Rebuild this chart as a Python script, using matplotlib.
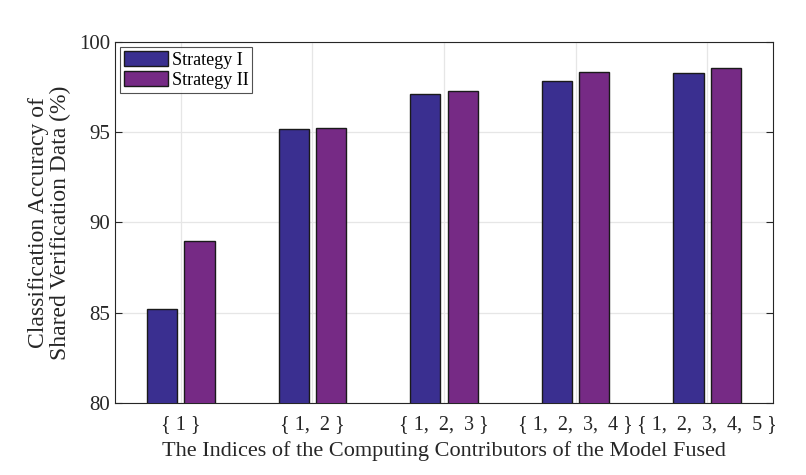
import numpy as np
import matplotlib
matplotlib.use("Agg")
import matplotlib.pyplot as plt

plt.rcParams['font.family'] = ['Liberation Serif', 'DejaVu Serif']
plt.rcParams['mathtext.fontset'] = 'stix'

groups = ["{ 1 }", "{ 1,  2 }", "{ 1,  2,  3 }", "{ 1,  2,  3,  4 }", "{ 1,  2,  3,  4,  5 }"]
strategy_1 = [85.18, 95.18, 97.10, 97.83, 98.28]
strategy_2 = [88.95, 95.23, 97.28, 98.33, 98.56]

fig = plt.figure(figsize=(8.06, 4.75), dpi=100)
ax = fig.add_axes([0.1427, 0.1516, 0.8163, 0.76])

x = np.arange(1, len(groups) + 1)
w = 0.23
off = 0.142
ax.bar(x - off, strategy_1, w, color='#3a2f90', edgecolor='#1a1a1a', linewidth=1.0,
       label='Strategy I', zorder=3)
ax.bar(x + off, strategy_2, w, color='#762a85', edgecolor='#1a1a1a', linewidth=1.0,
       label='Strategy II', zorder=3)

ax.set_xlim(0.5, 5.5)
ax.set_ylim(80, 100)
ax.set_xticks(x)
ax.set_xticklabels(groups)
ax.set_yticks([80, 85, 90, 95, 100])
ax.tick_params(axis='both', labelsize=15, colors='#262626', direction='in',
               length=5, width=0.8, top=False, right=True)
ax.tick_params(axis='x', length=0, pad=9, labelsize=14.5)
ax.grid(True, color='#e6e6e6', linewidth=0.9, zorder=0)
for s in ax.spines.values():
    s.set_color('#262626')
    s.set_linewidth(0.8)

ax.set_xlabel('The Indices of the Computing Contributors of the Model Fused',
              fontsize=16, color='#262626', labelpad=5)
ax.set_ylabel('Classification Accuracy of\nShared Verification Data (%)',
              fontsize=17, color='#262626', labelpad=6, linespacing=1.05)

leg = ax.legend(loc='upper left', fontsize=13, frameon=True, fancybox=False,
                edgecolor='#262626', borderpad=0.2, handlelength=2.45, handleheight=0.9,
                handletextpad=0.2, labelspacing=0.15, borderaxespad=0.3)
leg.get_frame().set_linewidth(0.8)

fig.savefig('out.png', dpi=100)
